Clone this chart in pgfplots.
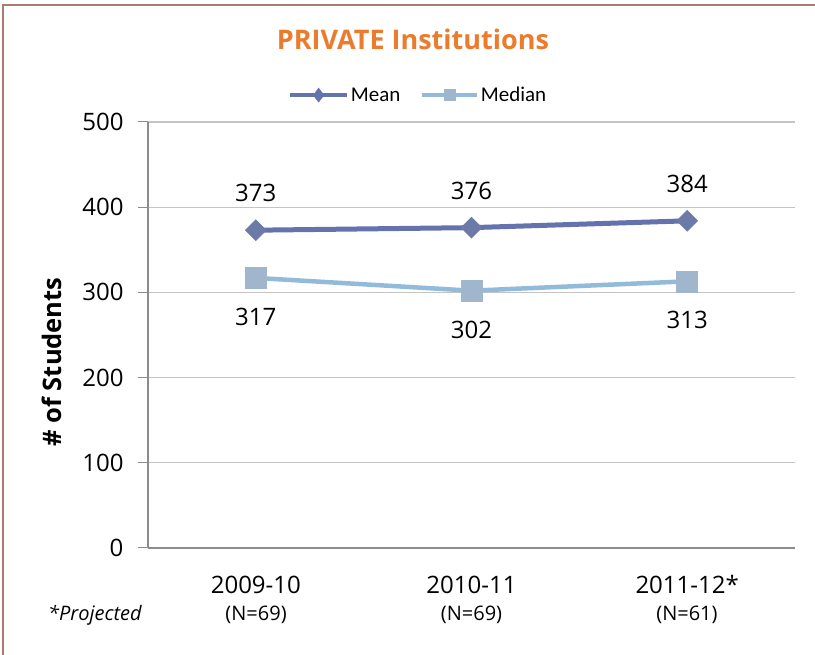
\documentclass[border=0pt]{standalone}
\usepackage{pgfplots}
\pgfplotsset{compat=1.18}
\usepackage{fontspec}
\setmainfont{Open Sans}
\newfontfamily\legfont{Carlito}
\definecolor{meanline}{HTML}{6472AE}
\definecolor{meanmark}{HTML}{6C7AA8}
\definecolor{medline}{HTML}{92BADB}
\definecolor{medmark}{HTML}{A0B6CD}
\definecolor{titleorange}{HTML}{EB7B2D}
\definecolor{framebrown}{HTML}{A87C6E}
\definecolor{gridgray}{HTML}{C4C4C4}
\definecolor{axisgray}{HTML}{8C8C8C}
\begin{document}
\begin{tikzpicture}[x=1pt,y=1pt]
\path[use as bounding box] (0,0) rectangle (815,655);
\draw[color=framebrown, line width=2.5pt] (3,0) -- (3,650) -- (815,650);
\node[font=\fontsize{27}{31}\selectfont\bfseries, text=titleorange] at (413,616) {PRIVATE Institutions};
\node[rotate=90,font=\fontsize{25.5}{30}\selectfont\bfseries] at (52,293) {\# of Students};
\begin{axis}[
  at={(148pt,107pt)}, anchor=south west,
  width=647pt, height=426pt, scale only axis,
  xmin=-0.5, xmax=2.5, ymin=0, ymax=500,
  ytick={0,100,...,500},
  xtick={0,1,2},
  xticklabels={2009-10,2010-11,2011-12*},
  minor xtick={-0.5,0.5,1.5,2.5},
  xtick style={draw=none},
  minor tick style={draw=axisgray, line width=1pt},
  ytick style={draw=axisgray, line width=1pt},
  major tick length=10pt, minor tick length=10pt,
  tick align=outside,
  axis x line*=bottom, axis y line*=left,
  axis line style={draw=axisgray, line width=1.2pt, -},
  ymajorgrids, major grid style={draw=gridgray, line width=1.3pt},
  /pgf/number format/assume math mode=true,
  tick label style={font=\fontsize{24}{28}\selectfont},
  xticklabel style={yshift=-14pt, text height=18pt, text depth=0pt},
  yticklabel style={xshift=-11pt},
  legend style={at={(0.417,1.063)}, anchor=center, draw=none, fill=none,
    legend columns=2, font=\legfont\fontsize{21}{24}\selectfont,
    /tikz/every even column/.append style={column sep=18pt},
    nodes={inner sep=1.5pt},
    inner sep=0pt},
  legend cell align=left,
  nodes near coords,
  every node near coord/.append style={font=\fontsize{24}{28}\selectfont, text=black, anchor=center},
  clip=false,
]
\addplot[color=meanline, line width=5pt, mark=square*, mark size=7.4pt,
  mark options={rotate=45, fill=meanmark, draw=meanmark, line width=0.5pt},
  every node near coord/.append style={yshift=37pt},
  legend image code/.code={\draw[line width=4.5pt] (0,0) -- (57pt,0);
    \draw[mark=diamond*, mark options={rotate=0}, mark size=7pt, line width=0.5pt] plot coordinates {(28.5pt,0)};}]
  coordinates {(0,373) (1,376) (2,384)};
\addlegendentry{Mean}
\addplot[color=medline, line width=4.5pt, mark=square*, mark size=10.5pt,
  mark options={fill=medmark, draw=medmark, line width=0.5pt},
  every node near coord/.append style={yshift=-39pt},
  legend image code/.code={\draw[line width=4.5pt] (0,0) -- (55pt,0);
    \draw[mark size=5.5pt, line width=0.5pt] plot coordinates {(27.5pt,0)};}]
  coordinates {(0,317) (1,302) (2,313)};
\addlegendentry{Median}
\node[font=\fontsize{20}{23}\selectfont] at (rel axis cs:0.167,-0.157) {(N=69)};
\node[font=\fontsize{20}{23}\selectfont] at (rel axis cs:0.5,-0.157) {(N=69)};
\node[font=\fontsize{20}{23}\selectfont] at (rel axis cs:0.833,-0.157) {(N=61)};
\node[font=\fontsize{20}{23}\selectfont\itshape] at (rel axis cs:-0.082,-0.157) {*Projected};
\end{axis}
\end{tikzpicture}
\end{document}
